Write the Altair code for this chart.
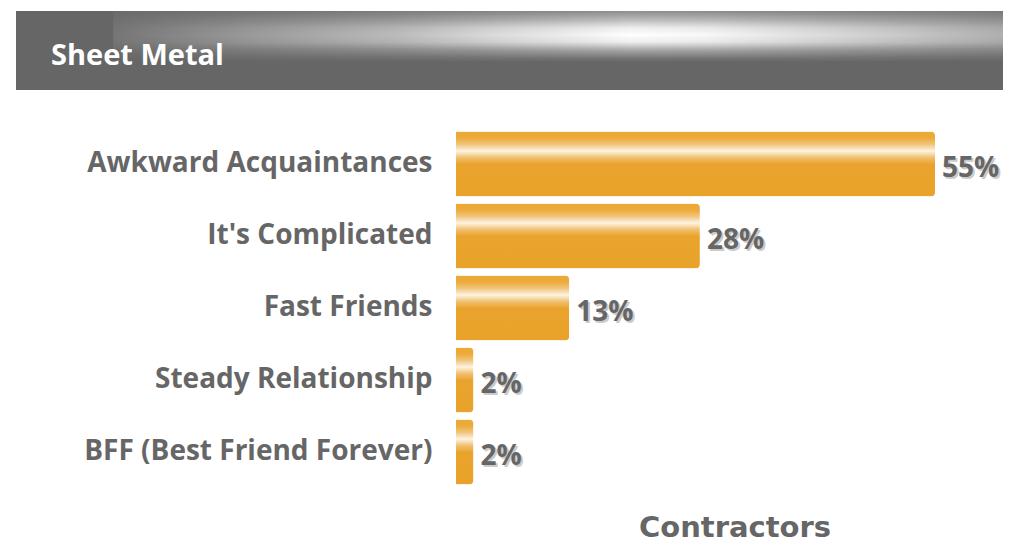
import altair as alt
import pandas as pd

# ---- data ----
categories = [
    "Awkward Acquaintances",
    "It's Complicated",
    "Fast Friends",
    "Steady Relationship",
    "BFF (Best Friend Forever)",
]
values = [55, 28, 13, 2, 2]
header_title = "Sheet Metal"
x_title = "Contractors"

df = pd.DataFrame({"category": categories, "value": values})
df["label"] = [f"{v}%" for v in values]

W, H = 547, 360
LABEL_FONT = "Open Sans"
GRAY = "#666666"

bar_grad = alt.LinearGradient(
    gradient="linear", x1=0, y1=0, x2=0, y2=1,
    stops=[
        alt.GradientStop(offset=0.0, color="#ECA935"),
        alt.GradientStop(offset=0.10, color="#ECAA38"),
        alt.GradientStop(offset=0.20, color="#F2C67F"),
        alt.GradientStop(offset=0.30, color="#FDF3E2"),
        alt.GradientStop(offset=0.40, color="#F1C071"),
        alt.GradientStop(offset=0.50, color="#EAA42E"),
        alt.GradientStop(offset=1.0, color="#E9A229"),
    ],
)

# horizontal light profile of the header streak
streak_h = alt.LinearGradient(
    gradient="linear", x1=0, y1=0, x2=1, y2=0,
    stops=[
        alt.GradientStop(offset=0.0, color="#666666"),
        alt.GradientStop(offset=0.098, color="#666666"),
        alt.GradientStop(offset=0.099, color="#767676"),
        alt.GradientStop(offset=0.237, color="#9A9A9A"),
        alt.GradientStop(offset=0.389, color="#BDBDBD"),
        alt.GradientStop(offset=0.49, color="#DDDDDD"),
        alt.GradientStop(offset=0.622, color="#FFFFFF"),
        alt.GradientStop(offset=0.70, color="#F8F8F8"),
        alt.GradientStop(offset=0.80, color="#E0E0E0"),
        alt.GradientStop(offset=0.90, color="#C8C8C8"),
        alt.GradientStop(offset=1.0, color="#B0B0B0"),
    ],
)
# vertical fade back to the base grey
streak_v = alt.LinearGradient(
    gradient="linear", x1=0, y1=0, x2=0, y2=1,
    stops=[
        alt.GradientStop(offset=0.0, color="rgba(102,102,102,0.75)"),
        alt.GradientStop(offset=0.18, color="rgba(102,102,102,0.43)"),
        alt.GradientStop(offset=0.33, color="rgba(102,102,102,0.11)"),
        alt.GradientStop(offset=0.47, color="rgba(102,102,102,0)"),
        alt.GradientStop(offset=0.61, color="rgba(102,102,102,0.11)"),
        alt.GradientStop(offset=0.76, color="rgba(102,102,102,0.56)"),
        alt.GradientStop(offset=0.92, color="rgba(102,102,102,0.89)"),
        alt.GradientStop(offset=1.0, color="rgba(102,102,102,1)"),
    ],
)

y_enc = alt.Y(
    "category:N",
    sort=categories,
    scale=alt.Scale(paddingInner=0.1, paddingOuter=0.05),
    axis=alt.Axis(
        title=None, ticks=False, domain=False, grid=False,
        labelFont=LABEL_FONT, labelFontSize=28, labelFontWeight="bold",
        labelColor=GRAY, labelPadding=24, labelLimit=440,
    ),
)
x_enc = alt.X(
    "value:Q",
    scale=alt.Scale(domain=[0, 62.8], nice=False),
    axis=alt.Axis(
        title=x_title, labels=False, ticks=False, domain=False, grid=False,
        titleFont="DejaVu Sans", titleFontSize=29, titleFontWeight="bold",
        titleColor=GRAY, titlePadding=25, titleX=W / 2 + 5,
    ),
)

base = alt.Chart(df)

bars = base.mark_bar(color=bar_grad, cornerRadiusEnd=4).encode(x=x_enc, y=y_enc)

shadow = base.mark_text(
    align="left", baseline="middle", dx=9, dy=7,
    font=LABEL_FONT, fontSize=28, fontWeight="bold", color="#CBCBCB",
).encode(x="value:Q", y=alt.Y("category:N", sort=categories), text="label:N")

labels = base.mark_text(
    align="left", baseline="middle", dx=7, dy=5,
    font=LABEL_FONT, fontSize=28, fontWeight="bold", color=GRAY,
).encode(x="value:Q", y=alt.Y("category:N", sort=categories), text="label:N")

hdf = pd.DataFrame({"t": [header_title]})
header = alt.Chart(hdf).mark_rect(fill="#666666").encode(
    x=alt.value(-440), x2=alt.value(W), y=alt.value(-117), y2=alt.value(-38)
)
streak = alt.Chart(hdf).mark_rect(fill=streak_h).encode(
    x=alt.value(-440), x2=alt.value(W), y=alt.value(-117), y2=alt.value(-66)
)
streak_fade = alt.Chart(hdf).mark_rect(fill=streak_v).encode(
    x=alt.value(-440), x2=alt.value(W), y=alt.value(-117), y2=alt.value(-66)
)
header_text = alt.Chart(hdf).mark_text(
    align="left", baseline="alphabetic",
    font=LABEL_FONT, fontSize=29, fontWeight="bold", color="#FFFFFF",
).encode(x=alt.value(-405), y=alt.value(-63), text="t:N")

chart = (
    alt.layer(header, streak, streak_fade, header_text, bars, shadow, labels)
    .properties(
        width=W, height=H,
        autosize=alt.AutoSizeParams(type="none"),
        padding={"left": 448, "top": 120, "right": 0, "bottom": 56},
        background="#FFFFFF",
    )
    .configure_view(stroke=None)
)

chart.save("out.html", embed_options={"renderer": "svg", "actions": False})
